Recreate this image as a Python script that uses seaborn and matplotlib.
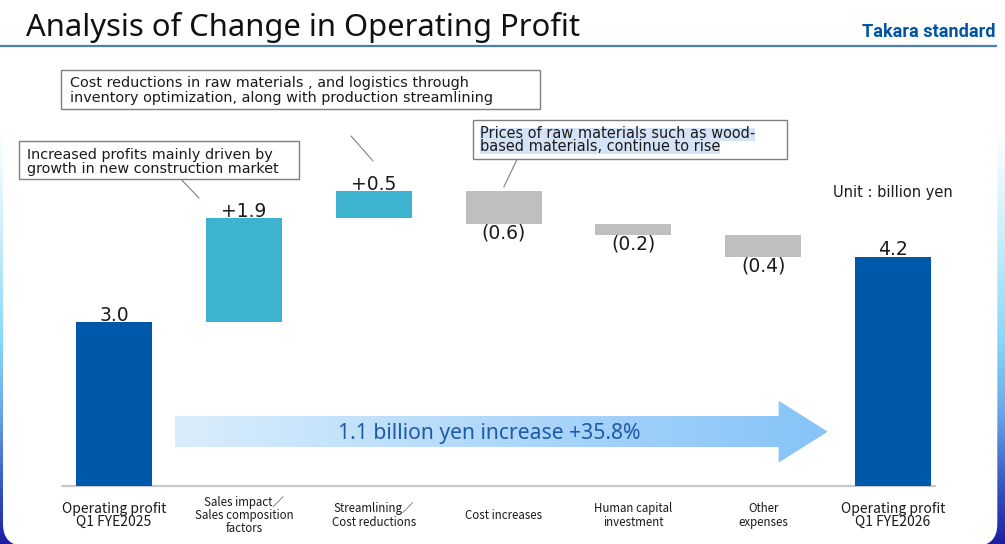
import numpy as np
import pandas as pd
import matplotlib
matplotlib.use("Agg")
import matplotlib.pyplot as plt
import seaborn as sns
from matplotlib.patches import Rectangle, FancyBboxPatch, Polygon
from matplotlib.colors import to_rgb

# ---------------- data ----------------
categories = [
    "Operating profit\nQ1 FYE2025",
    "Sales impact／\nSales composition\nfactors",
    "Streamlining／\nCost reductions",
    "Cost increases",
    "Human capital\ninvestment",
    "Other\nexpenses",
    "Operating profit\nQ1 FYE2026",
]
kinds = ["total", "delta", "delta", "delta", "delta", "delta", "total"]
values = [3.0, 1.9, 0.5, -0.6, -0.2, -0.4, 4.2]
value_labels = ["3.0", "+1.9", "+0.5", "(0.6)", "(0.2)", "(0.4)", "4.2"]

title_text = "Analysis of Change in Operating Profit"
brand_text = "Takara standard"
unit_text = "Unit : billion yen"
arrow_text = "1.1 billion yen increase +35.8%"
note_stream = ["Cost reductions in raw materials , and logistics through",
               "inventory optimization, along with production streamlining"]
note_sales = ["Increased profits mainly driven by",
              "growth in new construction market"]
note_cost = ["Prices of raw materials such as wood-",
             "based materials, continue to rise"]

# ---------------- derived waterfall geometry ----------------
bottoms, heights = [], []
running = 0.0
for k, v in zip(kinds, values):
    if k == "total":
        bottoms.append(0.0); heights.append(v); running = v
    else:
        if v >= 0:
            bottoms.append(running); heights.append(v)
        else:
            bottoms.append(running + v); heights.append(-v)
        running += v

C_TOTAL, C_POS, C_NEG = "#0058AB", "#3DB3CF", "#BFBFBF"
bar_colors = [C_TOTAL if k == "total" else (C_POS if v >= 0 else C_NEG)
              for k, v in zip(kinds, values)]

sns.set_style("white")
plt.rcParams["font.family"] = ["DejaVu Sans"]

W, H = 1005, 544
fig = plt.figure(figsize=(W / 100, H / 100), dpi=100)


def fit(texts, target):
    r = fig.canvas.get_renderer()
    w = max(t.get_window_extent(r).width for t in texts)
    for t in texts:
        t.set_fontsize(t.get_fontsize() * target / w)


# ---------------- background ----------------
bg = fig.add_axes([0, 0, 1, 1], zorder=-2)
stops = [(0, "#FFFFFF"), (130, "#FFFFFF"), (230, "#CDEFFC"), (340, "#86D8F8"),
         (410, "#6AA8EA"), (480, "#3A5CC8"), (544, "#1A1FA0")]
ys = np.arange(H)
sy = [s[0] for s in stops]
cols = np.array([to_rgb(s[1]) for s in stops])
grad = np.stack([np.interp(ys, sy, cols[:, k]) for k in range(3)], axis=-1)[:, None, :]
bg.imshow(grad, extent=(0, W, H, 0), aspect="auto", interpolation="bilinear")
bg.add_patch(FancyBboxPatch((3.0, -60), 994.3, 606,
                            boxstyle="round,pad=0,rounding_size=22",
                            fc="white", ec="none"))
bg.set_xlim(0, W); bg.set_ylim(H, 0); bg.axis("off")

# ---------------- main waterfall axes ----------------
L, R, base_y, top_y, ppu = 49.1, 958.0, 486.0, 60.0, 54.6
ax = fig.add_axes([L / W, (H - base_y) / H, (R - L) / W, (base_y - top_y) / H])
ax.set_facecolor("none")

df = pd.DataFrame({"category": categories, "height": heights})
sns.barplot(data=df, x="category", y="height", hue="category",
            palette=dict(zip(categories, bar_colors)), order=categories,
            hue_order=categories, legend=False, width=0.585, saturation=1,
            errorbar=None, linewidth=0, ax=ax, zorder=2)
bars = sorted(ax.patches, key=lambda p: p.get_x())
for p, b in zip(bars, bottoms):
    p.set_y(b)

ax.set_xlim(-0.5, len(categories) - 0.5)
ax.set_ylim(0, (base_y - top_y) / ppu)
ax.set_xticks([]); ax.set_yticks([])
ax.set_xlabel(""); ax.set_ylabel("")
sns.despine(ax=ax, left=True, bottom=True)
ax.axhline(0, xmin=(62 - L) / (R - L), xmax=(935 - L) / (R - L),
           color="#C8C8C8", lw=1.6, zorder=1, clip_on=False)

for i, (b, h, lab, v) in enumerate(zip(bottoms, heights, value_labels, values)):
    if v >= 0:
        ax.annotate(lab, (i, b + h), xytext=(0, 1.1), textcoords="offset points",
                    ha="center", va="baseline", fontsize=13.5, color="#1a1a1a")
    else:
        ax.annotate(lab, (i, b), xytext=(0, -10.5), textcoords="offset points",
                    ha="center", va="baseline", fontsize=13.5, color="#1a1a1a")

for i, lab in enumerate(categories):
    big = kinds[i] == "total"
    ax.annotate(lab, xy=(i, 0), xycoords=("data", "axes fraction"),
                xytext=(0, -21.2), textcoords="offset points",
                ha="center", va="center", fontsize=10 if big else 8.3,
                linespacing=0.98 if big else 1.02,
                family=["Noto Sans CJK JP", "DejaVu Sans"],
                color="#1a1a1a", annotation_clip=False)

# ---------------- overlay (title, notes, arrow) ----------------
ov = fig.add_axes([0, 0, 1, 1], zorder=5)

t = ov.text(25.6, 36, title_text, fontsize=20, family=["Noto Sans"],
            ha="left", va="baseline", color="#111111")
fit([t], 554)
ov.plot([0, 997], [46, 46], color="#4A7EBB", lw=1.6, solid_capstyle="butt")
b = ov.text(995, 37, brand_text, fontsize=13, fontweight="bold",
            family=["Roboto"], color="#0055A4", ha="right", va="baseline")
fit([b], 133)


def note(x0, y0, x1, y1, lines, tx, baselines, target_w, hl=None):
    ov.add_patch(Rectangle((x0, y0), x1 - x0, y1 - y0, fc="white",
                           ec="#7F7F7F", lw=1, zorder=2))
    ts = [ov.text(tx, by, s, fontsize=10, ha="left", va="baseline",
                  color="#1a1a1a", zorder=4) for s, by in zip(lines, baselines)]
    fit(ts, target_w)
    if hl is not None:
        r = fig.canvas.get_renderer()
        for tt, (ya, yb) in zip(ts, hl):
            w = tt.get_window_extent(r).width
            ov.add_patch(Rectangle((tx, ya), w, yb - ya, fc="#D5E3F6",
                                   ec="none", zorder=3))


note(60.5, 70, 540, 109, note_stream, 69.6, [87.3, 101.7], 423)
note(18.5, 141, 298.5, 179, note_sales, 26.8, [158.5, 173.0], 252)
note(473, 120, 787, 159, note_cost, 479.6, [138.0, 151.0], 274,
     hl=[(128, 141), (141, 154)])

ov.plot([351, 373], [136, 161], color="#808080", lw=0.8)
ov.plot([181.7, 199], [180, 198], color="#808080", lw=0.8)
ov.plot([516.8, 503.8], [160, 187], color="#808080", lw=0.8)

u = ov.text(833, 197, unit_text, fontsize=10, ha="left", va="baseline",
            color="#1a1a1a")
fit([u], 119)

# gradient arrow
pts = [(174.5, 416), (778.6, 416), (778.6, 400.7), (827.7, 431.7),
       (778.6, 462.7), (778.6, 447), (174.5, 447)]
poly = Polygon(pts, closed=True, fc="none", ec="none")
ov.add_patch(poly)
c0, c1 = np.array(to_rgb("#DAEDFC")), np.array(to_rgb("#86C3F8"))
xs = np.linspace(0, 1, 256)
ag = np.stack([np.interp(xs, [0, 1], [c0[k], c1[k]]) for k in range(3)], -1)[None, :, :]
im = ov.imshow(ag, extent=(174.5, 827.7, 462.7, 400.7), aspect="auto",
               interpolation="bilinear", zorder=1)
im.set_clip_path(poly)
at = ov.text(489, 439, arrow_text, fontsize=14, family=["Noto Sans"],
             ha="center", va="baseline", color="#1F5AAA", zorder=3)
fit([at], 303)

ov.set_xlim(0, W); ov.set_ylim(H, 0); ov.axis("off")

fig.savefig("out.png", dpi=100)
